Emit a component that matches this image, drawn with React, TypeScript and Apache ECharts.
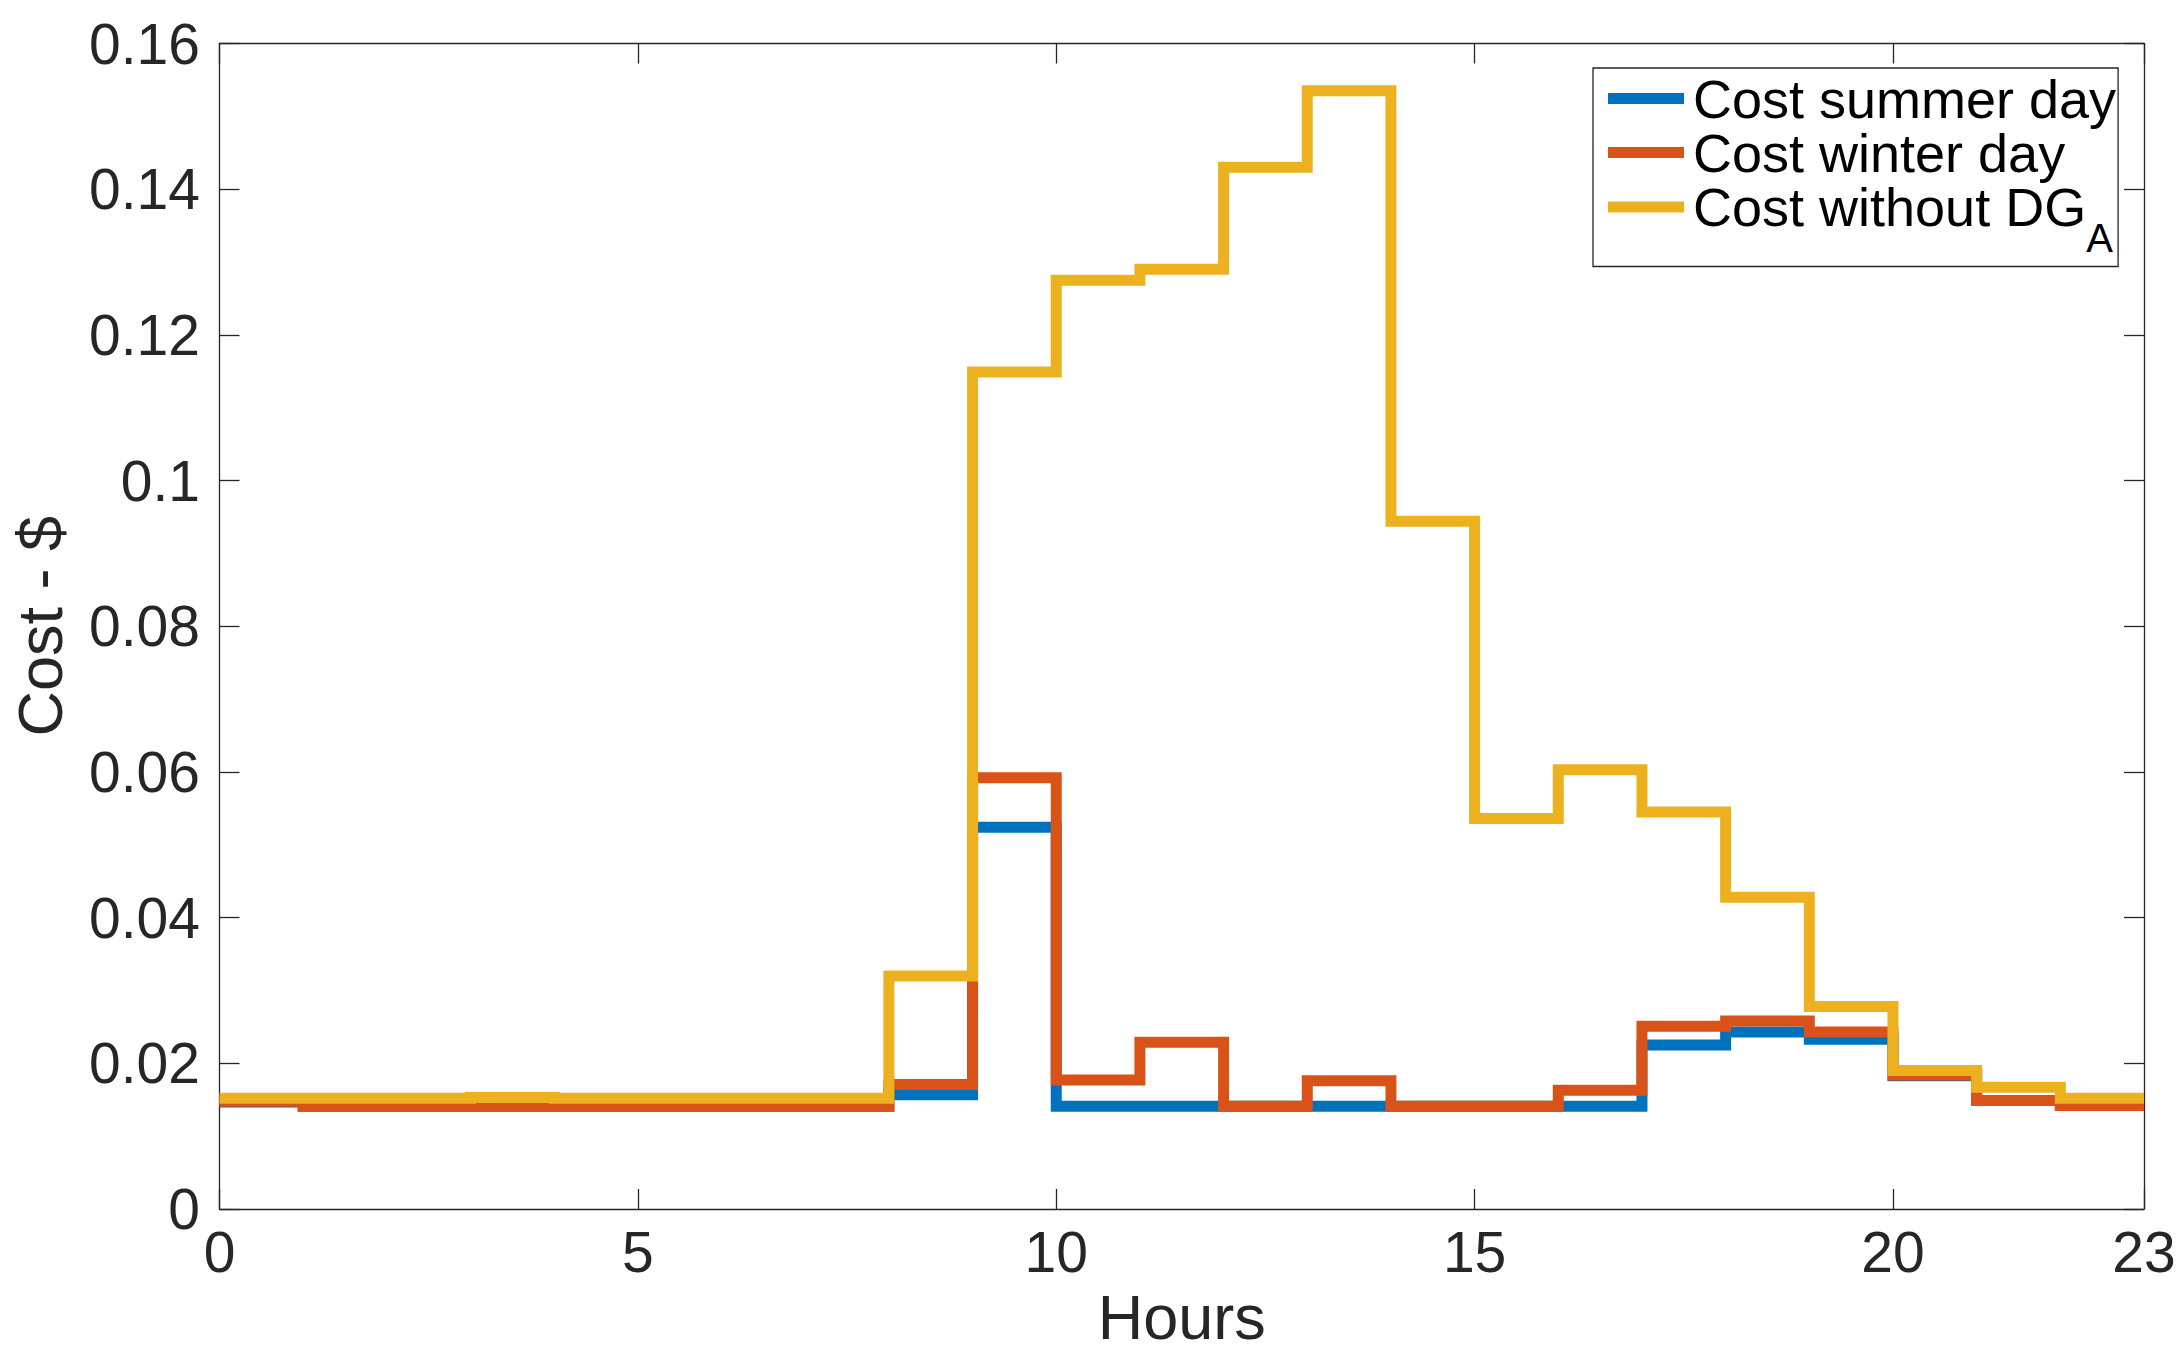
import React, { useEffect, useRef } from "react";
import * as echarts from "echarts";

const HOURS = [0, 1, 2, 3, 4, 5, 6, 7, 8, 9, 10, 11, 12, 13, 14, 15, 16, 17, 18, 19, 20, 21, 22, 23];
const SUMMER = [0.0147, 0.0141, 0.0141, 0.0141, 0.0141, 0.0141, 0.0141, 0.0141, 0.0157, 0.0524, 0.0141, 0.0141, 0.0141, 0.0141, 0.0141, 0.0141, 0.0141, 0.0225, 0.0243, 0.0233, 0.0183, 0.0149, 0.0142, 0.0142];
const WINTER = [0.0148, 0.0141, 0.0141, 0.0141, 0.0141, 0.0141, 0.0141, 0.0141, 0.0171, 0.0592, 0.0177, 0.0229, 0.0141, 0.0176, 0.0141, 0.0141, 0.0163, 0.0251, 0.0258, 0.0243, 0.0184, 0.0149, 0.0142, 0.0142];
const WITHOUT_DG = [0.0152, 0.0152, 0.0152, 0.0153, 0.0152, 0.0152, 0.0152, 0.0152, 0.0320, 0.1149, 0.1275, 0.1290, 0.1430, 0.1535, 0.0944, 0.0536, 0.0603, 0.0545, 0.0428, 0.0278, 0.0190, 0.0167, 0.0152, 0.0152];
const X_TICKS = [0, 5, 10, 15, 20, 23];
const Y_TICKS = [0, 0.02, 0.04, 0.06, 0.08, 0.1, 0.12, 0.14, 0.16];
const SERIES_NAMES = ["Cost summer day", "Cost winter day", "Cost without DG"];
const COLORS = ["#0072BD", "#D95319", "#EDB120"];

const FONT = "'Liberation Sans', Arial, Helvetica, sans-serif";
const TXT = "#262626";

function axisLine() {
  return { show: true, onZero: false, lineStyle: { color: TXT, width: 1.3 } };
}
function tick(values: number[]) {
  return { show: true, inside: true, length: 20, customValues: values, lineStyle: { color: TXT, width: 1.3 } };
}

export default function App() {
  const ref = useRef<HTMLDivElement>(null);
  useEffect(() => {
    if (!ref.current) return;
    const chart = echarts.init(ref.current, null, { renderer: "svg" });
    const seriesData = [SUMMER, WINTER, WITHOUT_DG];
    const option: any = {
      animation: false,
      backgroundColor: "#ffffff",
      textStyle: { fontFamily: FONT },
      grid: { left: 219.5, right: 40, top: 43.5, bottom: 146, containLabel: false },
      legend: {
        show: true,
        orient: "vertical",
        left: 1593,
        top: 68,
        padding: [3.5, 2, 8.5, 15],
        itemGap: 0,
        itemWidth: 76,
        itemHeight: 11,
        icon: "rect",
        selectedMode: false,
        borderColor: TXT,
        borderWidth: 1.3,
        backgroundColor: "#ffffff",
        data: SERIES_NAMES,
        formatter: (name: string) => {
          if (name === SERIES_NAMES[2]) return "{m|" + name + "}{s|A}";
          return "{n|" + name + "}";
        },
        textStyle: {
          color: "#000000",
          fontFamily: FONT,
          fontSize: 54,
          rich: {
            n: { fontSize: 54, lineHeight: 57, fontFamily: FONT, color: "#000", padding: [0, 0, 0, 4] },
            m: { fontSize: 54, lineHeight: 55, fontFamily: FONT, color: "#000", padding: [0, 0, 23, 4], verticalAlign: "top" },
            s: { fontSize: 40, lineHeight: 40, fontFamily: FONT, color: "#000", padding: [38.5, 0, 0, 0], verticalAlign: "top" },
          },
        },
      },
      xAxis: [
        {
          type: "value",
          min: 0,
          max: 23,
          position: "bottom",
          name: "Hours",
          nameLocation: "middle",
          nameGap: 76,
          nameTextStyle: { fontSize: 63, color: TXT, fontFamily: FONT },
          axisLine: axisLine(),
          axisTick: tick(X_TICKS),
          axisLabel: { show: true, customValues: X_TICKS, fontSize: 57, color: TXT, fontFamily: FONT, margin: 14 },
          splitLine: { show: false },
        },
        {
          type: "value",
          min: 0,
          max: 23,
          position: "top",
          axisLine: axisLine(),
          axisTick: tick(X_TICKS),
          axisLabel: { show: false },
          splitLine: { show: false },
        },
      ],
      yAxis: [
        {
          type: "value",
          min: 0,
          max: 0.16,
          interval: 0.02,
          position: "left",
          name: "Cost - $",
          nameLocation: "middle",
          nameGap: 148,
          nameTextStyle: { fontSize: 63, color: TXT, fontFamily: FONT },
          axisLine: axisLine(),
          axisTick: tick(Y_TICKS),
          axisLabel: {
            fontSize: 57,
            color: TXT,
            fontFamily: FONT,
            margin: 19.5,
            formatter: (v: number) => String(parseFloat(v.toFixed(2))),
          },
          splitLine: { show: false },
        },
        {
          type: "value",
          min: 0,
          max: 0.16,
          interval: 0.02,
          position: "right",
          axisLine: axisLine(),
          axisTick: tick(Y_TICKS),
          axisLabel: { show: false },
          splitLine: { show: false },
        },
      ],
      series: SERIES_NAMES.map((name, i) => ({
        name,
        type: "line",
        step: "end",
        xAxisIndex: 0,
        yAxisIndex: 0,
        showSymbol: false,
        symbol: "none",
        color: COLORS[i],
        lineStyle: { color: COLORS[i], width: 11, join: "miter", cap: "butt" },
        data: HOURS.map((h, k) => [h, seriesData[i][k]]),
        z: 2 + i,
      })),
    };
    chart.setOption(option);
    return () => chart.dispose();
  }, []);
  return (
    <div
      ref={ref}
      style={{ position: "absolute", left: 0, top: 0, width: 2184, height: 1355, background: "#fff" }}
    />
  );
}
